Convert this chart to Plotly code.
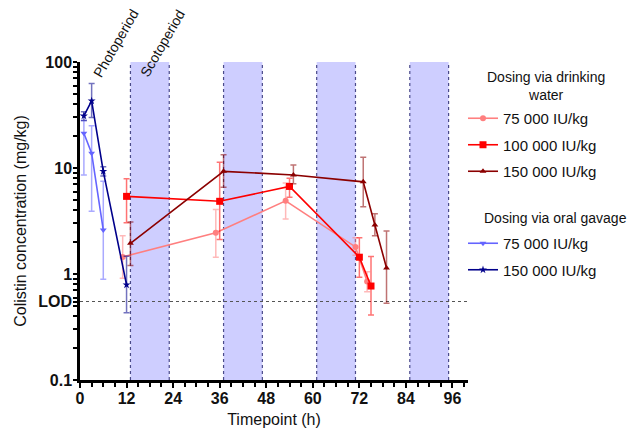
import plotly.graph_objects as go

# ---- data ----
band_starts = [13, 37, 61, 85]
band_ends = [23, 47, 71, 95]
lod = 0.55

water75_t = [11, 35, 53, 71, 74]
water75_y = [1.45, 2.45, 4.9, 1.8, 0.85]
water75_hi = [2.3, 4.05, 7.2, 2.2, 1.05]
water75_lo = [0.91, 1.44, 3.3, 1.5, 0.68]

water100_t = [12, 36, 54, 72, 75]
water100_y = [5.4, 4.85, 6.7, 1.44, 0.77]
water100_hi = [7.9, 11.3, 8.0, 2.2, 1.46]
water100_lo = [3.05, 2.12, 5.3, 0.93, 0.41]

water150_t = [13, 37, 55, 73, 76, 79]
water150_y = [1.95, 9.3, 8.6, 7.4, 2.9, 1.14]
water150_hi = [3.1, 13.3, 10.7, 12.6, 3.7, 2.54]
water150_lo = [1.2, 6.6, 7.1, 4.3, 2.3, 0.53]

oral75_t = [1, 3, 6]
oral75_y = [21.3, 13.8, 2.6]
oral75_hi = [28, 25, 7.5]
oral75_lo = [8.6, 3.9, 0.89]

oral150_t = [1, 3, 6, 12]
oral150_y = [31, 43, 9.3, 0.79]
oral150_hi = [34, 62.7, 10.3, 1.47]
oral150_lo = [28, 30, 8.4, 0.43]

x_ticks = [0, 12, 24, 36, 48, 60, 72, 84, 96]
y_tickvals = [0.1, lod, 1, 10, 100]
y_ticktext = ["0.1", "LOD", "1", "10", "100"]

group_titles = ["Dosing via drinking<br>water", "Dosing via oral gavage"]

series = [
    ("legend", "75 000 IU/kg", water75_t, water75_y, water75_hi, water75_lo,
     "#ff7f7f", "rgba(255,127,127,0.55)", "circle", 6),
    ("legend", "100 000 IU/kg", water100_t, water100_y, water100_hi, water100_lo,
     "#ff0000", "rgba(255,0,0,0.55)", "square", 7),
    ("legend", "150 000 IU/kg", water150_t, water150_y, water150_hi, water150_lo,
     "#8b0000", "rgba(139,0,0,0.55)", "triangle-up", 6),
    ("legend2", "75 000 IU/kg", oral75_t, oral75_y, oral75_hi, oral75_lo,
     "#6464ff", "rgba(100,100,255,0.55)", "triangle-down", 6),
    ("legend2", "150 000 IU/kg", oral150_t, oral150_y, oral150_hi, oral150_lo,
     "#00008b", "rgba(0,0,139,0.55)", "star", 6),
]

fig = go.Figure()
for i, (leg, name, t, y, hi, lo, col, ecol, sym, msz) in enumerate(series):
    fig.add_trace(go.Scatter(
        x=t, y=y, mode="lines+markers", name=name, legend=leg, legendgroup="g%d" % i,
        line=dict(color=col, width=1.6),
        marker=dict(symbol=sym, size=msz, color=col),
        error_y=dict(type="data", symmetric=False,
                     array=[h - v for h, v in zip(hi, y)],
                     arrayminus=[v - l for v, l in zip(y, lo)],
                     color=ecol, thickness=1.5, width=3),
    ))

shapes = []
for s, e in zip(band_starts, band_ends):
    shapes.append(dict(type="rect", xref="x", yref="paper", x0=s, x1=e, y0=0, y1=1,
                       fillcolor="rgb(206,206,255)", line=dict(width=0), layer="below"))
    for xv in (s, e):
        shapes.append(dict(type="line", xref="x", yref="paper", x0=xv, x1=xv, y0=0, y1=1,
                           line=dict(color="#4a4a8a", width=1.2, dash="dot"), layer="below"))
shapes.append(dict(type="line", xref="paper", yref="y", x0=0, x1=1, y0=lod, y1=lod,
                   line=dict(color="#555", width=1.2, dash="dot"), layer="below"))

def py(p):
    return (380 - p) / 318.0

def px(p):
    return (p - 80) / 388.0

annotations = [
    dict(text="Photoperiod", x=9.3, y=py(43), xref="x", yref="paper", showarrow=False,
         xanchor="center", yanchor="middle", textangle=-60, font=dict(size=14, color="#111")),
    dict(text="Scotoperiod", x=21.3, y=py(43), xref="x", yref="paper", showarrow=False,
         xanchor="center", yanchor="middle", textangle=-60, font=dict(size=14, color="#111")),
    dict(text=group_titles[0], x=px(546), y=py(86), xref="paper", yref="paper",
         showarrow=False, align="center", xanchor="center", yanchor="middle",
         font=dict(size=14, color="#111")),
    dict(text=group_titles[1], x=px(482), y=py(218), xref="paper", yref="paper",
         showarrow=False, xanchor="left", yanchor="middle",
         font=dict(size=14, color="#111")),
]

legend_common = dict(xanchor="left", yanchor="top", tracegroupgap=4,
                     font=dict(size=15), itemwidth=30, bgcolor="rgba(0,0,0,0)")

fig.update_layout(
    width=633, height=430,
    margin=dict(l=80, r=165, t=62, b=50, autoexpand=False),
    paper_bgcolor="white", plot_bgcolor="white",
    font=dict(family="Liberation Sans, Arial, sans-serif", size=15, color="#111"),
    shapes=shapes, annotations=annotations,
    showlegend=True,
    legend=dict(x=px(463), y=py(102), **legend_common),
    legend2=dict(x=px(463), y=py(227), **legend_common),
)
fig.update_xaxes(
    range=[0, 100], tickvals=x_ticks, showgrid=False, zeroline=False, automargin=False,
    showline=True, linecolor="black", linewidth=2.5,
    ticks="outside", ticklen=5, tickwidth=2, tickcolor="black", ticklabelstandoff=-3,
    tickfont=dict(size=16, family="Liberation Sans, Arial", weight="bold"),
    minor=dict(dtick=3, ticks="outside", ticklen=4, tickwidth=2, tickcolor="black"),
    title=dict(text="Timepoint (h)", font=dict(size=16), standoff=8),
)
fig.update_yaxes(
    type="log", range=[-1, 2], tickvals=y_tickvals, ticktext=y_ticktext, automargin=False,
    showgrid=False, zeroline=False,
    showline=True, linecolor="black", linewidth=2.5,
    ticks="outside", ticklen=4, tickwidth=2, tickcolor="black", ticklabelstandoff=-2,
    tickfont=dict(size=16, family="Liberation Sans, Arial", weight="bold"),
    minor=dict(dtick="D1", ticks="outside", ticklen=4, tickwidth=1.5, tickcolor="black"),
    title=dict(text="Colistin concentration (mg/kg)", font=dict(size=16), standoff=8),
)

fig.write_html("out.html", config={"displayModeBar": False},
               post_script="document.body.style.margin='0';")
